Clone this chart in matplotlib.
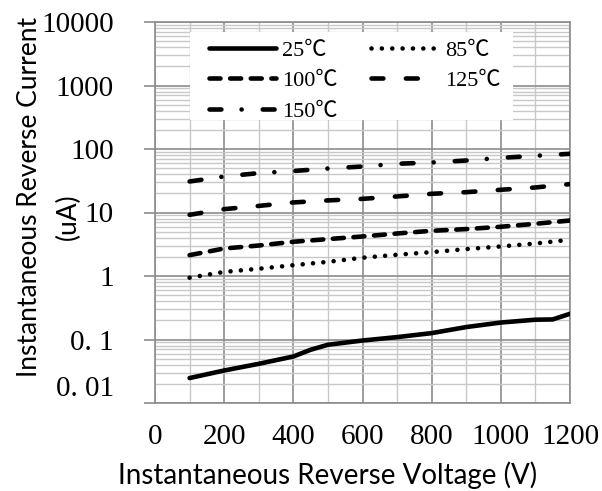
import matplotlib
matplotlib.use("Agg")
import matplotlib.pyplot as plt
from matplotlib.patches import Rectangle
from matplotlib.ticker import FixedLocator, NullFormatter
import matplotlib.transforms as mtransforms

# ---------------- data ----------------
voltage = [100, 200, 300, 400, 500, 600, 700, 800, 900, 1000, 1100, 1200]
voltage_25 = [100, 200, 300, 400, 450, 500, 600, 700, 800, 900, 1000, 1100, 1150, 1200]
current_25 = [0.0247, 0.0325, 0.0414, 0.054, 0.0689, 0.0826, 0.0964, 0.109, 0.126, 0.157, 0.185, 0.205, 0.207, 0.254]
current_85 = [0.94, 1.16, 1.30, 1.48, 1.67, 1.94, 2.16, 2.38, 2.65, 2.92, 3.25, 3.72]
current_100 = [2.13, 2.71, 3.02, 3.46, 3.81, 4.19, 4.67, 5.15, 5.48, 5.96, 6.64, 7.48]
current_125 = [9.2, 11.3, 12.7, 14.4, 15.5, 16.4, 17.9, 19.7, 20.9, 22.8, 24.8, 28.0]
current_150 = [30.8, 36.9, 41.7, 45.0, 49.3, 53.0, 58.5, 61.3, 65.9, 72.6, 78.1, 84.0]
legend_labels = ["25℃", "85℃", "100℃", "125℃", "150℃"]
x_ticks = [0, 200, 400, 600, 800, 1000, 1200]
x_tick_labels = ["0", "200", "400", "600", "800", "1000", "1200"]
y_ticks = [0.01, 0.1, 1, 10, 100, 1000, 10000]
y_tick_labels = ["0. 01", "0. 1", "1", "10", "100", "1000", "10000"]
x_label = "Instantaneous Reverse Voltage (V)"
y_label_1 = "Instantaneous Reverse Current"
y_label_2 = "(uA)"

W, H = 602, 491
fig = plt.figure(figsize=(W / 100, H / 100), dpi=100)
ax = fig.add_axes([155 / W, 1 - 403 / H, 415 / W, 381 / H])

serif = ["Liberation Serif", "Noto Sans CJK SC", "DejaVu Serif"]
sans = ["Lato", "DejaVu Sans"]

LW = 3.3
common = dict(color="black", lw=LW, dash_capstyle="round", solid_capstyle="round", zorder=3)
l25, = ax.plot(voltage_25, current_25, linestyle="-", **common)
l85, = ax.plot(voltage, current_85, linestyle=(0, (0.01, 2.25)), **common)
l100, = ax.plot(voltage, current_100, linestyle=(0, (2.4, 2.1)), **common)
l125, = ax.plot(voltage, current_125, linestyle=(0, (2.6, 4.9)), **common)
l150, = ax.plot(voltage, current_150, linestyle=(0, (2.6, 4.4, 0.01, 4.6)), **common)

ax.set_xlim(0, 1200)
ax.set_yscale("log")
ax.set_ylim(0.01, 10000)

ax.xaxis.set_major_locator(FixedLocator(x_ticks))
ax.set_xticklabels(x_tick_labels)
ax.xaxis.set_minor_locator(FixedLocator(list(range(100, 1200, 200))))
ax.yaxis.set_major_locator(FixedLocator(y_ticks))
ax.set_yticklabels(y_tick_labels)
minors = []
for d in [0.01, 0.1, 1, 10, 100, 1000]:
    for s in range(2, 10):
        minors.append(d * s)
ax.yaxis.set_minor_locator(FixedLocator(minors))
ax.yaxis.set_minor_formatter(NullFormatter())
ax.xaxis.set_minor_formatter(NullFormatter())

ax.set_axisbelow(True)
ax.grid(which="major", color="#8c8c8c", lw=1.2)
ax.grid(which="minor", color="#c8c8c8", lw=1.0)
for sp in ax.spines.values():
    sp.set_color("#8c8c8c")
    sp.set_linewidth(1.2)

ax.tick_params(axis="x", which="both", length=0, pad=15)
ax.tick_params(axis="y", which="major", length=8, width=1.2, color="#8c8c8c", pad=21.5)
ax.tick_params(axis="y", which="minor", length=0)
for lab in ax.get_xticklabels() + ax.get_yticklabels():
    lab.set_fontfamily(serif)
    lab.set_fontsize(21)

# shift the bottom y label up like the reference
ylabs = ax.get_yticklabels()
ylabs[0].set_transform(ylabs[0].get_transform() +
                       mtransforms.ScaledTranslation(0, 17 / 100, fig.dpi_scale_trans))

# legend background
ax.add_patch(Rectangle(((190 - 155) / 415, (403 - 120) / 381), (513 - 190) / 415, (120 - 32) / 381,
                       transform=ax.transAxes, facecolor="white", edgecolor="none", zorder=2))
handles = [l25, l100, l150, l85, l125]
labels = [legend_labels[0], legend_labels[2], legend_labels[4], legend_labels[1], legend_labels[3]]
leg = ax.legend(handles, labels, ncol=2, loc="upper left",
                bbox_to_anchor=((209 - 155) / 415, (403 - 40) / 381),
                frameon=False, prop={"family": serif, "size": 16},
                handlelength=3.0, handletextpad=0.3, columnspacing=1.5,
                labelspacing=0.45, borderpad=0, borderaxespad=0)
leg.set_zorder(5)

fig.text(328 / W, 1 - 484 / H, x_label, ha="center", va="baseline",
         fontfamily=sans, fontsize=20)
fig.text(37 / W, 1 - 197 / H, y_label_1, ha="center", va="baseline", rotation=90,
         rotation_mode="anchor", fontfamily=sans, fontsize=19)
fig.text(76 / W, 1 - 217 / H, y_label_2, ha="center", va="baseline", rotation=90,
         rotation_mode="anchor", fontfamily=sans, fontsize=19)

fig.savefig("out.png", dpi=100, facecolor="white")
